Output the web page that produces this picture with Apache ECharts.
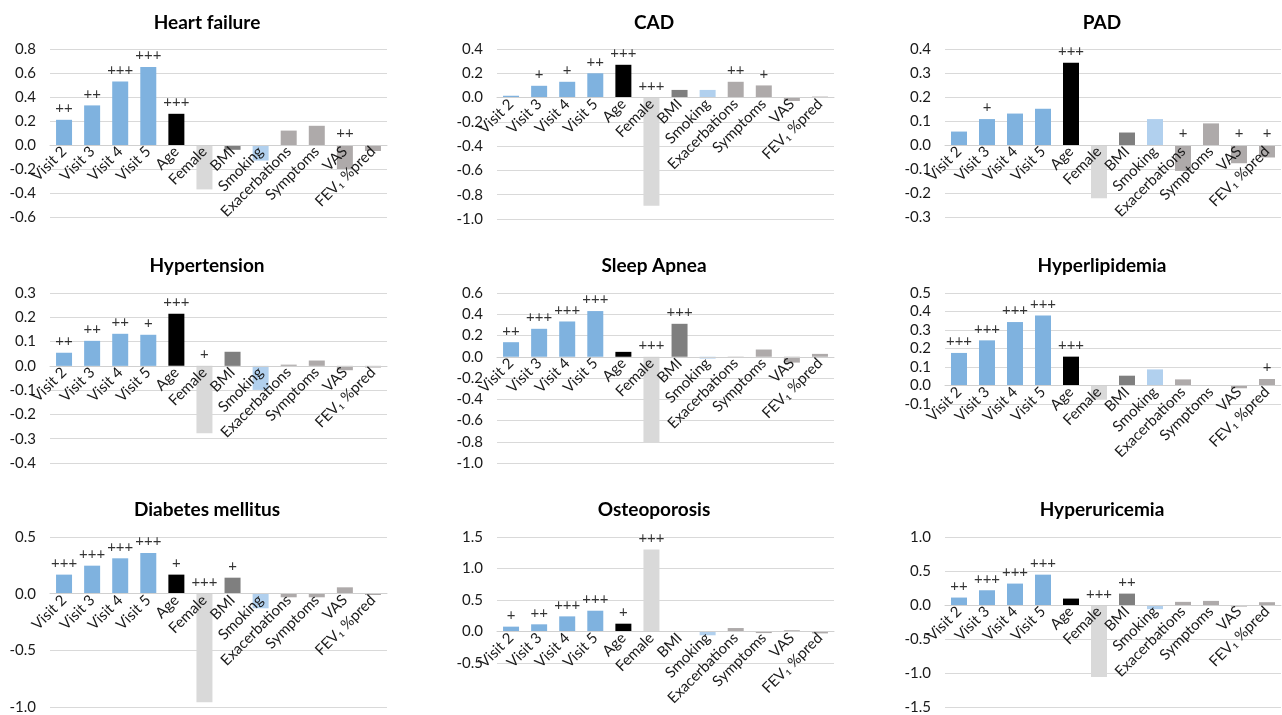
<!DOCTYPE html>
<html>
<head>
<meta charset="utf-8">
<script src="https://cdn.jsdelivr.net/npm/echarts@6/dist/echarts.min.js"></script>
<style>
html,body{margin:0;padding:0;background:#fff;}
#chart{width:1282px;height:715px;}
</style>
</head>
<body>
<div id="chart"></div>
<script>
const categories = ['Visit 2','Visit 3','Visit 4','Visit 5','Age','Female','BMI','Smoking','Exacerbations','Symptoms','VAS','FEV\u2081 %pred'];
const categoryColors = ['#7FB2DF','#7FB2DF','#7FB2DF','#7FB2DF','#000000','#D9D9D9','#7F7F7F','#B1D0EE','#AEAAAA','#AEAAAA','#AEAAAA','#AEAAAA'];

const panelTitles = ['Heart failure','CAD','PAD','Hypertension','Sleep Apnea','Hyperlipidemia','Diabetes mellitus','Osteoporosis','Hyperuricemia'];

const heartFailureValues = [0.21, 0.33, 0.53, 0.65, 0.26, -0.37, -0.04, -0.13, 0.12, 0.16, -0.20, -0.05];
const heartFailureSig    = ['++','++','+++','+++','+++','','','','','','++',''];

const cadValues = [0.015, 0.097, 0.13, 0.20, 0.27, -0.89, 0.063, 0.063, 0.13, 0.10, -0.028, 0.008];
const cadSig    = ['','+','+','++','+++','+++','','','++','+','',''];

const padValues = [0.056, 0.108, 0.131, 0.151, 0.343, -0.222, 0.052, 0.108, -0.108, 0.090, -0.076, -0.052];
const padSig    = ['','+','','','+++','','','','+','','+','+'];

const hypertensionValues = [0.054, 0.103, 0.132, 0.128, 0.215, -0.278, 0.058, -0.099, 0.005, 0.022, -0.018, -0.007];
const hypertensionSig    = ['++','++','++','+','+++','+','','','','','',''];

const sleepApneaValues = [0.137, 0.263, 0.332, 0.43, 0.046, -0.808, 0.31, -0.017, -0.01, 0.068, -0.055, 0.027];
const sleepApneaSig    = ['++','+++','+++','+++','','+++','+++','','','','',''];

const hyperlipidemiaValues = [0.176, 0.244, 0.343, 0.379, 0.156, -0.077, 0.053, 0.087, 0.033, 0.0, -0.015, 0.035];
const hyperlipidemiaSig    = ['+++','+++','+++','+++','+++','','','','','','','+'];

const diabetesValues = [0.168, 0.247, 0.312, 0.359, 0.168, -0.959, 0.141, -0.129, -0.032, -0.032, 0.056, -0.012];
const diabetesSig    = ['+++','+++','+++','+++','+','+++','+','','','','',''];

const osteoporosisValues = [0.077, 0.114, 0.24, 0.33, 0.124, 1.30, 0.003, -0.06, 0.055, -0.025, 0.02, -0.03];
const osteoporosisSig    = ['+','++','+++','+++','+','+++','','','','','',''];

const hyperuricemiaValues = [0.112, 0.219, 0.317, 0.448, 0.097, -1.052, 0.17, -0.058, 0.049, 0.063, -0.02, 0.044];
const hyperuricemiaSig    = ['++','+++','+++','+++','','+++','++','','','','',''];

const yMins      = [-0.6, -1.0, -0.3, -0.4, -1.0, -0.1, -1.0, -0.5, -1.5];
const yMaxs      = [ 0.8,  0.4,  0.4,  0.3,  0.6,  0.5,  0.5,  1.5,  1.0];
const yIntervals = [ 0.2,  0.2,  0.1,  0.1,  0.2,  0.1,  0.5,  0.5,  0.5];

const panelValues = [heartFailureValues, cadValues, padValues, hypertensionValues, sleepApneaValues, hyperlipidemiaValues, diabetesValues, osteoporosisValues, hyperuricemiaValues];
const panelSig = [heartFailureSig, cadSig, padSig, hypertensionSig, sleepApneaSig, hyperlipidemiaSig, diabetesSig, osteoporosisSig, hyperuricemiaSig];

// layout
const gridLefts = [50, 497, 945];
const gridWidths = [337, 337, 336];
const titleCenters = [202, 649, 1097];
const gridRects = [
  {top: 49, height: 168}, {top: 49, height: 170}, {top: 49, height: 168},
  {top: 293, height: 170}, {top: 293, height: 170}, {top: 293, height: 111},
  {top: 537, height: 170}, {top: 537, height: 126}, {top: 537, height: 171}
];
const titleTops = [8, 251, 495];

const FONT = 'Lato, "DejaVu Sans", sans-serif';

const option = {
  animation: false,
  backgroundColor: '#fff',
  title: [], grid: [], xAxis: [], yAxis: [], series: []
};

for (let i = 0; i < 9; i++) {
  const col = i % 3, row = Math.floor(i / 3);
  const h = gridRects[i].height;
  const zeroOffset = -h * (0 - yMins[i]) / (yMaxs[i] - yMins[i]);
  option.title.push({
    text: panelTitles[i],
    left: titleCenters[col], top: titleTops[row], textAlign: 'center',
    textStyle: {fontFamily: FONT, fontSize: 19, fontWeight: 'bold', color: '#000'}
  });
  option.grid.push({
    left: gridLefts[col], width: gridWidths[col],
    top: gridRects[i].top, height: h,
    containLabel: false
  });
  option.xAxis.push({
    type: 'category', gridIndex: i, data: categories,
    position: 'bottom', offset: zeroOffset, z: 5,
    axisLine: {onZero: false, lineStyle: {color: '#D0D0D0', width: 1}},
    axisTick: {show: false},
    axisLabel: {interval: 0, rotate: 45, margin: 4, fontFamily: FONT, fontSize: 15, color: '#1a1a1a', hideOverlap: false},
    splitLine: {show: false}
  });
  option.yAxis.push({
    type: 'value', gridIndex: i,
    min: yMins[i], max: yMaxs[i], interval: yIntervals[i],
    axisLine: {show: false}, axisTick: {show: false},
    splitLine: {lineStyle: {color: '#D9D9D9', width: 1}},
    axisLabel: {margin: 14, fontFamily: FONT, fontSize: 15, color: '#1a1a1a',
      formatter: v => v.toFixed(1)}
  });
  option.series.push({
    type: 'bar', xAxisIndex: i, yAxisIndex: i, silent: true,
    barWidth: 16,
    data: panelValues[i].map((v, k) => ({value: v, itemStyle: {color: categoryColors[k]}}))
  });
  option.series.push({
    type: 'scatter', xAxisIndex: i, yAxisIndex: i, silent: true,
    symbolSize: 0,
    data: panelValues[i].map((v) => Math.max(v, 0)),
    label: {
      show: true, position: 'top', distance: 4,
      fontFamily: FONT, fontSize: 15, color: '#000',
      formatter: (p) => panelSig[i][p.dataIndex]
    }
  });
}

const chart = echarts.init(document.getElementById('chart'));
chart.setOption(option);
</script>
</body>
</html>
